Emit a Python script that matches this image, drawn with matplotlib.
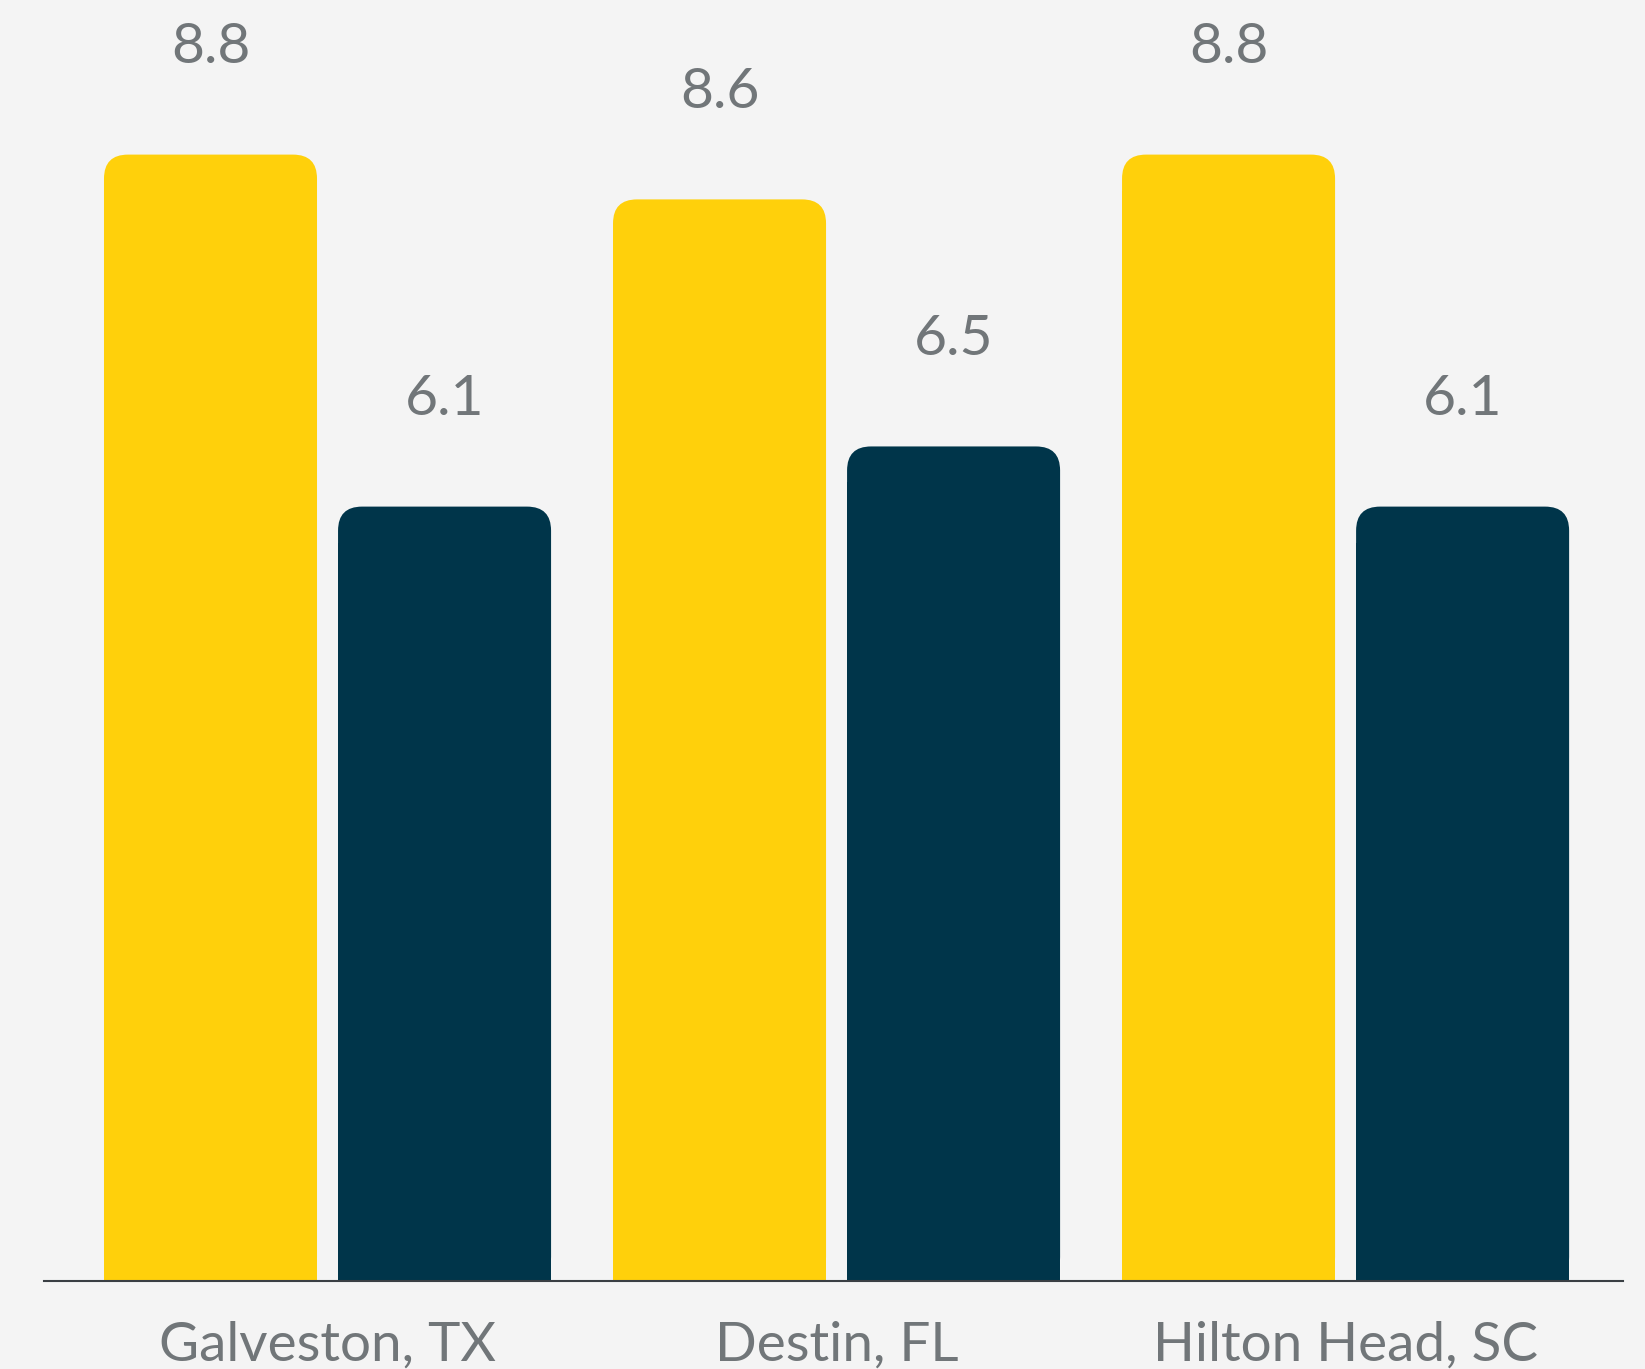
import matplotlib
matplotlib.use("Agg")
import matplotlib.pyplot as plt
from matplotlib.patches import FancyBboxPatch, Rectangle
from matplotlib.transforms import blended_transform_factory
import numpy as np

# data (bar heights, labels as printed)
cities = ["Galveston, TX", "Destin, FL", "Hilton Head, SC"]
series_a = [8.8, 8.45, 8.8]
series_b = [6.05, 6.52, 6.05]
labels_a = ["8.8", "8.6", "8.8"]
labels_b = ["6.1", "6.5", "6.1"]

YELLOW = "#FFD00B"
NAVY = "#00354A"
BG = "#F4F4F4"
TXT = "#717679"

plt.rcParams['font.family'] = ['Lato', 'DejaVu Sans']

W, H = 1645, 1369
fig = plt.figure(figsize=(W / 100, H / 100), dpi=100, facecolor=BG)
ax = fig.add_axes([44 / W, 88 / H, (1623 - 44) / W, 1280 / H])
ax.set_facecolor(BG)

x = np.arange(len(cities))
bw = 0.4185
off = 0.2299
ax.set_xlim(-0.557, 2.545)
ax.set_ylim(0, 10)

# corner radius in data units (px -> data)
px_x = (1623 - 44) / 3.102
px_y = 128.0
r_px = 24
rx, ry = r_px / px_x, r_px / px_y


def rounded_bar(xc, h, lab, color):
    x0 = xc - bw / 2
    ax.add_patch(FancyBboxPatch((x0, 0), bw, h,
                                boxstyle=f"round,pad=0,rounding_size={rx}",
                                mutation_aspect=ry / rx,
                                fc=color, ec="none", lw=0))
    ax.add_patch(Rectangle((x0, 0), bw, h - ry * 1.5, fc=color, ec="none", lw=0))
    ax.annotate(lab, (xc, h), xytext=(0, 66), textcoords="offset points",
                ha="center", va="baseline", fontsize=41, color=TXT)


for i in range(len(cities)):
    rounded_bar(x[i] - off, series_a[i], labels_a[i], YELLOW)
    rounded_bar(x[i] + off, series_b[i], labels_b[i], NAVY)

trans = blended_transform_factory(ax.transData, ax.transAxes)
for i, c in enumerate(cities):
    ax.annotate(c, (x[i], 0), xycoords=trans, xytext=(0, -57.5),
                textcoords="offset points", ha="center", va="baseline",
                fontsize=39.5, color=TXT, annotation_clip=False)

for s in ["top", "left", "right"]:
    ax.spines[s].set_visible(False)
ax.spines["bottom"].set_color("#3a3f44")
ax.spines["bottom"].set_linewidth(1.5)
ax.set_xticks([])
ax.set_yticks([])

fig.savefig("out.png", dpi=100, facecolor=BG)
